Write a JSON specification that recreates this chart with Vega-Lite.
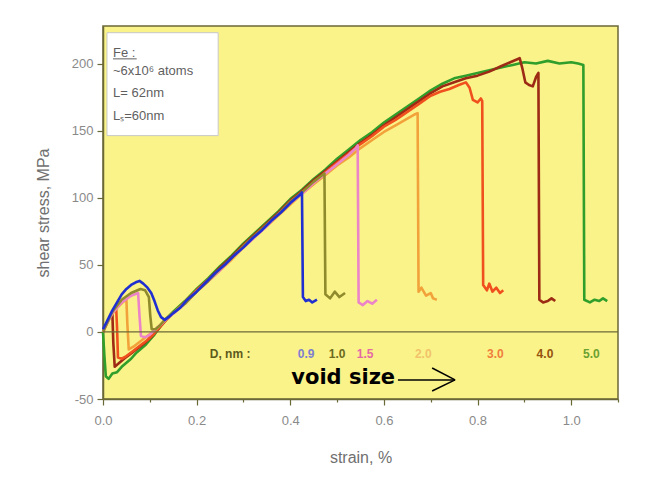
{
  "$schema": "https://vega.github.io/schema/vega-lite/v6.json",
  "width": 515,
  "height": 373,
  "autosize": {"type": "none"},
  "padding": {"left": 103, "top": 26, "right": 37, "bottom": 89},
  "background": "white",
  "config": {
    "view": {"fill": "#FAF38A", "stroke": "#6b6838", "strokeWidth": 1.5},
    "axis": {
      "grid": false,
      "domainColor": "#6b6838",
      "domainWidth": 1.5,
      "tickColor": "#6b6838",
      "tickWidth": 1.2,
      "tickSize": 6,
      "labelFlush": false,
      "labelFont": "Liberation Sans",
      "labelFontSize": 13,
      "labelColor": "#8a8a8a",
      "titleFont": "Liberation Sans",
      "titleFontSize": 16,
      "titleFontWeight": "normal",
      "titleColor": "#707070"
    }
  },
  "resolve": {"scale": {"color": "independent"}},
  "datasets": {
    "curves": [
      {"D":"5.0","strain":0,"stress":0},{"D":"5.0","strain":0.003,"stress":-18},{"D":"5.0","strain":0.006,"stress":-33},{"D":"5.0","strain":0.012,"stress":-35},{"D":"5.0","strain":0.02,"stress":-31},{"D":"5.0","strain":0.03,"stress":-30},{"D":"5.0","strain":0.04,"stress":-26},{"D":"5.0","strain":0.05,"stress":-23},{"D":"5.0","strain":0.06,"stress":-20},{"D":"5.0","strain":0.07,"stress":-16},{"D":"5.0","strain":0.08,"stress":-13},{"D":"5.0","strain":0.09,"stress":-10},{"D":"5.0","strain":0.1,"stress":-6},{"D":"5.0","strain":0.11,"stress":-2},{"D":"5.0","strain":0.12,"stress":3},{"D":"5.0","strain":0.13,"stress":8},{"D":"5.0","strain":0.15,"stress":15},{"D":"5.0","strain":0.175,"stress":23},{"D":"5.0","strain":0.2,"stress":32},{"D":"5.0","strain":0.225,"stress":40},{"D":"5.0","strain":0.25,"stress":49},{"D":"5.0","strain":0.275,"stress":57},{"D":"5.0","strain":0.3,"stress":66},{"D":"5.0","strain":0.325,"stress":74},{"D":"5.0","strain":0.35,"stress":82},{"D":"5.0","strain":0.375,"stress":90},{"D":"5.0","strain":0.4,"stress":99},{"D":"5.0","strain":0.425,"stress":106},{"D":"5.0","strain":0.45,"stress":114},{"D":"5.0","strain":0.475,"stress":121},{"D":"5.0","strain":0.5,"stress":129},{"D":"5.0","strain":0.525,"stress":136},{"D":"5.0","strain":0.55,"stress":143},{"D":"5.0","strain":0.575,"stress":149},{"D":"5.0","strain":0.6,"stress":156},{"D":"5.0","strain":0.625,"stress":162},{"D":"5.0","strain":0.65,"stress":168},{"D":"5.0","strain":0.675,"stress":174},{"D":"5.0","strain":0.7,"stress":180},{"D":"5.0","strain":0.725,"stress":185},{"D":"5.0","strain":0.75,"stress":189},{"D":"5.0","strain":0.775,"stress":191},{"D":"5.0","strain":0.8,"stress":193},{"D":"5.0","strain":0.825,"stress":195},{"D":"5.0","strain":0.85,"stress":197},{"D":"5.0","strain":0.875,"stress":199},{"D":"5.0","strain":0.9,"stress":201},{"D":"5.0","strain":0.925,"stress":200},{"D":"5.0","strain":0.95,"stress":202},{"D":"5.0","strain":0.975,"stress":200},{"D":"5.0","strain":1.0,"stress":201},{"D":"5.0","strain":1.015,"stress":200},{"D":"5.0","strain":1.026,"stress":199},{"D":"5.0","strain":1.028,"stress":24},{"D":"5.0","strain":1.04,"stress":22},{"D":"5.0","strain":1.05,"stress":24},{"D":"5.0","strain":1.06,"stress":23},{"D":"5.0","strain":1.068,"stress":25},{"D":"5.0","strain":1.077,"stress":23},

      {"D":"4.0","strain":0,"stress":0},{"D":"4.0","strain":0.01,"stress":8},{"D":"4.0","strain":0.02,"stress":14},{"D":"4.0","strain":0.022,"stress":-8},{"D":"4.0","strain":0.025,"stress":-26},{"D":"4.0","strain":0.035,"stress":-23},{"D":"4.0","strain":0.045,"stress":-20},{"D":"4.0","strain":0.06,"stress":-16},{"D":"4.0","strain":0.075,"stress":-12},{"D":"4.0","strain":0.09,"stress":-8},{"D":"4.0","strain":0.105,"stress":-3},{"D":"4.0","strain":0.12,"stress":3},{"D":"4.0","strain":0.135,"stress":9},{"D":"4.0","strain":0.15,"stress":14},{"D":"4.0","strain":0.175,"stress":22},{"D":"4.0","strain":0.2,"stress":31},{"D":"4.0","strain":0.225,"stress":39},{"D":"4.0","strain":0.25,"stress":48},{"D":"4.0","strain":0.275,"stress":56},{"D":"4.0","strain":0.3,"stress":65},{"D":"4.0","strain":0.325,"stress":73},{"D":"4.0","strain":0.35,"stress":81},{"D":"4.0","strain":0.375,"stress":89},{"D":"4.0","strain":0.4,"stress":98},{"D":"4.0","strain":0.425,"stress":105},{"D":"4.0","strain":0.45,"stress":113},{"D":"4.0","strain":0.475,"stress":120},{"D":"4.0","strain":0.5,"stress":127},{"D":"4.0","strain":0.525,"stress":134},{"D":"4.0","strain":0.55,"stress":141},{"D":"4.0","strain":0.575,"stress":147},{"D":"4.0","strain":0.6,"stress":154},{"D":"4.0","strain":0.625,"stress":160},{"D":"4.0","strain":0.65,"stress":166},{"D":"4.0","strain":0.675,"stress":172},{"D":"4.0","strain":0.7,"stress":178},{"D":"4.0","strain":0.725,"stress":183},{"D":"4.0","strain":0.75,"stress":186},{"D":"4.0","strain":0.775,"stress":189},{"D":"4.0","strain":0.8,"stress":191},{"D":"4.0","strain":0.825,"stress":194},{"D":"4.0","strain":0.85,"stress":198},{"D":"4.0","strain":0.87,"stress":201},{"D":"4.0","strain":0.89,"stress":204},{"D":"4.0","strain":0.896,"stress":196},{"D":"4.0","strain":0.902,"stress":186},{"D":"4.0","strain":0.91,"stress":184},{"D":"4.0","strain":0.918,"stress":183},{"D":"4.0","strain":0.925,"stress":190},{"D":"4.0","strain":0.93,"stress":193},{"D":"4.0","strain":0.932,"stress":24},{"D":"4.0","strain":0.94,"stress":22},{"D":"4.0","strain":0.95,"stress":23},{"D":"4.0","strain":0.958,"stress":25},{"D":"4.0","strain":0.966,"stress":23},

      {"D":"3.0","strain":0,"stress":0},{"D":"3.0","strain":0.01,"stress":8},{"D":"3.0","strain":0.02,"stress":15},{"D":"3.0","strain":0.028,"stress":19},{"D":"3.0","strain":0.03,"stress":3},{"D":"3.0","strain":0.032,"stress":-19},{"D":"3.0","strain":0.04,"stress":-20},{"D":"3.0","strain":0.05,"stress":-18},{"D":"3.0","strain":0.065,"stress":-14},{"D":"3.0","strain":0.08,"stress":-10},{"D":"3.0","strain":0.095,"stress":-6},{"D":"3.0","strain":0.11,"stress":-1},{"D":"3.0","strain":0.125,"stress":5},{"D":"3.0","strain":0.14,"stress":11},{"D":"3.0","strain":0.16,"stress":17},{"D":"3.0","strain":0.18,"stress":24},{"D":"3.0","strain":0.2,"stress":31},{"D":"3.0","strain":0.225,"stress":39},{"D":"3.0","strain":0.25,"stress":47},{"D":"3.0","strain":0.275,"stress":55},{"D":"3.0","strain":0.3,"stress":64},{"D":"3.0","strain":0.325,"stress":72},{"D":"3.0","strain":0.35,"stress":80},{"D":"3.0","strain":0.375,"stress":88},{"D":"3.0","strain":0.4,"stress":97},{"D":"3.0","strain":0.425,"stress":104},{"D":"3.0","strain":0.45,"stress":111},{"D":"3.0","strain":0.475,"stress":119},{"D":"3.0","strain":0.5,"stress":126},{"D":"3.0","strain":0.525,"stress":133},{"D":"3.0","strain":0.55,"stress":140},{"D":"3.0","strain":0.575,"stress":146},{"D":"3.0","strain":0.6,"stress":153},{"D":"3.0","strain":0.625,"stress":158},{"D":"3.0","strain":0.65,"stress":164},{"D":"3.0","strain":0.675,"stress":170},{"D":"3.0","strain":0.7,"stress":176},{"D":"3.0","strain":0.72,"stress":179},{"D":"3.0","strain":0.74,"stress":181},{"D":"3.0","strain":0.76,"stress":184},{"D":"3.0","strain":0.775,"stress":186},{"D":"3.0","strain":0.783,"stress":182},{"D":"3.0","strain":0.79,"stress":173},{"D":"3.0","strain":0.8,"stress":171},{"D":"3.0","strain":0.807,"stress":174},{"D":"3.0","strain":0.81,"stress":172},{"D":"3.0","strain":0.812,"stress":35},{"D":"3.0","strain":0.82,"stress":31},{"D":"3.0","strain":0.825,"stress":36},{"D":"3.0","strain":0.832,"stress":30},{"D":"3.0","strain":0.84,"stress":33},{"D":"3.0","strain":0.848,"stress":29},{"D":"3.0","strain":0.855,"stress":31},

      {"D":"2.0","strain":0,"stress":0},{"D":"2.0","strain":0.015,"stress":11},{"D":"2.0","strain":0.03,"stress":18},{"D":"2.0","strain":0.045,"stress":23},{"D":"2.0","strain":0.05,"stress":24},{"D":"2.0","strain":0.052,"stress":6},{"D":"2.0","strain":0.055,"stress":-13},{"D":"2.0","strain":0.065,"stress":-11},{"D":"2.0","strain":0.08,"stress":-7},{"D":"2.0","strain":0.095,"stress":-3},{"D":"2.0","strain":0.11,"stress":1},{"D":"2.0","strain":0.125,"stress":6},{"D":"2.0","strain":0.14,"stress":11},{"D":"2.0","strain":0.16,"stress":17},{"D":"2.0","strain":0.18,"stress":23},{"D":"2.0","strain":0.2,"stress":30},{"D":"2.0","strain":0.225,"stress":38},{"D":"2.0","strain":0.25,"stress":46},{"D":"2.0","strain":0.275,"stress":54},{"D":"2.0","strain":0.3,"stress":63},{"D":"2.0","strain":0.325,"stress":71},{"D":"2.0","strain":0.35,"stress":79},{"D":"2.0","strain":0.375,"stress":87},{"D":"2.0","strain":0.4,"stress":95},{"D":"2.0","strain":0.425,"stress":103},{"D":"2.0","strain":0.45,"stress":110},{"D":"2.0","strain":0.475,"stress":117},{"D":"2.0","strain":0.5,"stress":124},{"D":"2.0","strain":0.525,"stress":130},{"D":"2.0","strain":0.55,"stress":137},{"D":"2.0","strain":0.575,"stress":143},{"D":"2.0","strain":0.6,"stress":149},{"D":"2.0","strain":0.625,"stress":154},{"D":"2.0","strain":0.65,"stress":159},{"D":"2.0","strain":0.665,"stress":162},{"D":"2.0","strain":0.672,"stress":163},{"D":"2.0","strain":0.674,"stress":30},{"D":"2.0","strain":0.68,"stress":33},{"D":"2.0","strain":0.69,"stress":27},{"D":"2.0","strain":0.7,"stress":29},{"D":"2.0","strain":0.705,"stress":25},{"D":"2.0","strain":0.713,"stress":24},

      {"D":"1.5","strain":0,"stress":0},{"D":"1.5","strain":0.02,"stress":14},{"D":"1.5","strain":0.04,"stress":22},{"D":"1.5","strain":0.06,"stress":27},{"D":"1.5","strain":0.075,"stress":29},{"D":"1.5","strain":0.078,"stress":12},{"D":"1.5","strain":0.081,"stress":-3},{"D":"1.5","strain":0.09,"stress":-4},{"D":"1.5","strain":0.1,"stress":-2},{"D":"1.5","strain":0.112,"stress":2},{"D":"1.5","strain":0.125,"stress":6},{"D":"1.5","strain":0.14,"stress":11},{"D":"1.5","strain":0.155,"stress":15},{"D":"1.5","strain":0.175,"stress":21},{"D":"1.5","strain":0.2,"stress":30},{"D":"1.5","strain":0.225,"stress":38},{"D":"1.5","strain":0.25,"stress":46},{"D":"1.5","strain":0.275,"stress":55},{"D":"1.5","strain":0.3,"stress":63},{"D":"1.5","strain":0.325,"stress":71},{"D":"1.5","strain":0.35,"stress":79},{"D":"1.5","strain":0.375,"stress":88},{"D":"1.5","strain":0.4,"stress":96},{"D":"1.5","strain":0.425,"stress":103},{"D":"1.5","strain":0.45,"stress":111},{"D":"1.5","strain":0.475,"stress":118},{"D":"1.5","strain":0.5,"stress":125},{"D":"1.5","strain":0.525,"stress":132},{"D":"1.5","strain":0.54,"stress":137},{"D":"1.5","strain":0.544,"stress":139},{"D":"1.5","strain":0.546,"stress":22},{"D":"1.5","strain":0.555,"stress":20},{"D":"1.5","strain":0.565,"stress":23},{"D":"1.5","strain":0.575,"stress":21},{"D":"1.5","strain":0.585,"stress":24},

      {"D":"1.0","strain":0,"stress":0},{"D":"1.0","strain":0.02,"stress":15},{"D":"1.0","strain":0.04,"stress":24},{"D":"1.0","strain":0.06,"stress":29},{"D":"1.0","strain":0.08,"stress":32},{"D":"1.0","strain":0.09,"stress":31},{"D":"1.0","strain":0.098,"stress":26},{"D":"1.0","strain":0.101,"stress":12},{"D":"1.0","strain":0.104,"stress":2},{"D":"1.0","strain":0.112,"stress":2},{"D":"1.0","strain":0.122,"stress":5},{"D":"1.0","strain":0.132,"stress":9},{"D":"1.0","strain":0.145,"stress":13},{"D":"1.0","strain":0.175,"stress":21},{"D":"1.0","strain":0.2,"stress":30},{"D":"1.0","strain":0.225,"stress":38},{"D":"1.0","strain":0.25,"stress":47},{"D":"1.0","strain":0.275,"stress":55},{"D":"1.0","strain":0.3,"stress":64},{"D":"1.0","strain":0.325,"stress":72},{"D":"1.0","strain":0.35,"stress":80},{"D":"1.0","strain":0.375,"stress":88},{"D":"1.0","strain":0.4,"stress":97},{"D":"1.0","strain":0.425,"stress":104},{"D":"1.0","strain":0.45,"stress":112},{"D":"1.0","strain":0.465,"stress":116},{"D":"1.0","strain":0.473,"stress":118},{"D":"1.0","strain":0.475,"stress":28},{"D":"1.0","strain":0.485,"stress":25},{"D":"1.0","strain":0.495,"stress":30},{"D":"1.0","strain":0.505,"stress":26},{"D":"1.0","strain":0.517,"stress":29},

      {"D":"0.9","strain":0,"stress":2},{"D":"0.9","strain":0.01,"stress":9},{"D":"0.9","strain":0.02,"stress":16},{"D":"0.9","strain":0.03,"stress":22},{"D":"0.9","strain":0.04,"stress":28},{"D":"0.9","strain":0.05,"stress":32},{"D":"0.9","strain":0.06,"stress":35},{"D":"0.9","strain":0.07,"stress":37},{"D":"0.9","strain":0.078,"stress":38},{"D":"0.9","strain":0.086,"stress":36},{"D":"0.9","strain":0.095,"stress":33},{"D":"0.9","strain":0.103,"stress":29},{"D":"0.9","strain":0.11,"stress":23},{"D":"0.9","strain":0.117,"stress":16},{"D":"0.9","strain":0.124,"stress":11},{"D":"0.9","strain":0.132,"stress":9},{"D":"0.9","strain":0.14,"stress":11},{"D":"0.9","strain":0.15,"stress":14},{"D":"0.9","strain":0.165,"stress":18},{"D":"0.9","strain":0.18,"stress":24},{"D":"0.9","strain":0.2,"stress":30},{"D":"0.9","strain":0.22,"stress":37},{"D":"0.9","strain":0.24,"stress":44},{"D":"0.9","strain":0.26,"stress":50},{"D":"0.9","strain":0.28,"stress":57},{"D":"0.9","strain":0.3,"stress":63},{"D":"0.9","strain":0.32,"stress":70},{"D":"0.9","strain":0.34,"stress":76},{"D":"0.9","strain":0.36,"stress":83},{"D":"0.9","strain":0.38,"stress":89},{"D":"0.9","strain":0.4,"stress":96},{"D":"0.9","strain":0.41,"stress":99},{"D":"0.9","strain":0.42,"stress":102},{"D":"0.9","strain":0.425,"stress":104},{"D":"0.9","strain":0.427,"stress":26},{"D":"0.9","strain":0.433,"stress":23},{"D":"0.9","strain":0.44,"stress":24},{"D":"0.9","strain":0.447,"stress":22},{"D":"0.9","strain":0.457,"stress":24}
    ],
    "box": [{"strain": 0.0085, "strain2": 0.246, "stress": 223, "stress2": 146.3}],
    "boxText": [
      {"strain": 0.0214, "stress": 208, "t": "Fe :"},
      {"strain": 0.0214, "stress": 194.8, "t": "~6x10⁶ atoms"},
      {"strain": 0.0214, "stress": 178.4, "t": "L= 62nm"},
      {"strain": 0.0214, "stress": 161.2, "t": "Lₛ=60nm"}
    ],
    "underline": [{"strain": 0.0214, "strain2": 0.072, "stress": 203.5}],
    "labels": [
      {"strain": 0.2714, "stress": -16.4, "label": "D, nm :"},
      {"strain": 0.434, "stress": -16.4, "label": "0.9"},
      {"strain": 0.5, "stress": -16.4, "label": "1.0"},
      {"strain": 0.56, "stress": -16.4, "label": "1.5"},
      {"strain": 0.684, "stress": -16.4, "label": "2.0"},
      {"strain": 0.838, "stress": -16.4, "label": "3.0"},
      {"strain": 0.944, "stress": -16.4, "label": "4.0"},
      {"strain": 1.043, "stress": -16.4, "label": "5.0"}
    ],
    "voidText": [{"strain": 0.513, "stress": -34.3, "t": "void size"}],
    "arrow": [
      {"strain": 0.63, "stress": -35.8, "strain2": 0.752, "stress2": -35.8},
      {"strain": 0.703, "stress": -26.9, "strain2": 0.752, "stress2": -35.8},
      {"strain": 0.703, "stress": -44.0, "strain2": 0.752, "stress2": -35.8}
    ]
  },
  "layer": [
    {
      "data": {"name": "curves"},
      "mark": {"type": "line", "strokeWidth": 2.6, "strokeJoin": "round"},
      "encoding": {
        "x": {
          "field": "strain", "type": "quantitative",
          "scale": {"domain": [0, 1.1], "nice": false, "zero": false},
          "axis": {
            "title": "strain, %",
            "values": [0, 0.1, 0.2, 0.3, 0.4, 0.5, 0.6, 0.7, 0.8, 0.9, 1.0, 1.1],
            "labelExpr": "round(datum.value*10) % 2 === 0 ? format(datum.value, '.1f') : ''",
            "tickDash": {"condition": {"test": "round(datum.value*10) % 2 === 0", "value": [10, 0]}, "value": [3, 10]},
            "labelPadding": 9,
            "titlePadding": 22
          }
        },
        "y": {
          "field": "stress", "type": "quantitative",
          "scale": {"domain": [-50, 228], "nice": false, "zero": false},
          "axis": {
            "title": "shear stress,  MPa",
            "values": [-50, -25, 0, 25, 50, 75, 100, 125, 150, 175, 200, 225],
            "labelExpr": "datum.value % 50 === 0 ? '' + datum.value : ''",
            "tickDash": {"condition": {"test": "datum.value % 50 === 0", "value": [10, 0]}, "value": [3, 10]},
            "labelPadding": 4,
            "titlePadding": 20
          }
        },
        "color": {
          "field": "D", "type": "nominal", "legend": null,
          "scale": {
            "domain": ["0.9", "1.0", "1.5", "2.0", "3.0", "4.0", "5.0"],
            "range": ["#1f2fd0", "#8f8a2c", "#ec84c8", "#f2a23a", "#f0501e", "#9c2a14", "#2f9e2a"]
          }
        }
      }
    },
    {
      "data": {"values": [{"stress": 0}]},
      "mark": {"type": "rule", "color": "#6b6838", "strokeWidth": 1.2},
      "encoding": {"y": {"field": "stress", "type": "quantitative"}}
    },
    {
      "data": {"name": "box"},
      "mark": {"type": "rect", "fill": "white", "stroke": "#c8c8c8", "strokeWidth": 1},
      "encoding": {
        "x": {"field": "strain", "type": "quantitative"},
        "x2": {"field": "strain2"},
        "y": {"field": "stress", "type": "quantitative"},
        "y2": {"field": "stress2"}
      }
    },
    {
      "data": {"name": "boxText"},
      "mark": {"type": "text", "align": "left", "baseline": "middle", "font": "Liberation Sans", "fontSize": 13, "color": "#5f5f5f"},
      "encoding": {
        "x": {"field": "strain", "type": "quantitative"},
        "y": {"field": "stress", "type": "quantitative"},
        "text": {"field": "t"}
      }
    },
    {
      "data": {"name": "underline"},
      "mark": {"type": "rule", "color": "#5f5f5f", "strokeWidth": 1},
      "encoding": {
        "x": {"field": "strain", "type": "quantitative"},
        "x2": {"field": "strain2"},
        "y": {"field": "stress", "type": "quantitative"}
      }
    },
    {
      "data": {"name": "labels"},
      "mark": {"type": "text", "align": "center", "baseline": "middle", "font": "Liberation Sans", "fontSize": 12, "fontWeight": "bold"},
      "encoding": {
        "x": {"field": "strain", "type": "quantitative"},
        "y": {"field": "stress", "type": "quantitative"},
        "text": {"field": "label"},
        "color": {
          "field": "label", "type": "nominal", "legend": null,
          "scale": {
            "domain": ["D, nm :", "0.9", "1.0", "1.5", "2.0", "3.0", "4.0", "5.0"],
            "range": ["#5e5a1c", "#7f7fcf", "#6b6a1c", "#e46aa4", "#f2c36a", "#f07e3c", "#94520e", "#6aa030"]
          }
        }
      }
    },
    {
      "data": {"name": "voidText"},
      "mark": {"type": "text", "align": "center", "baseline": "middle", "font": "DejaVu Sans", "fontSize": 21, "fontWeight": "bold", "color": "black"},
      "encoding": {
        "x": {"field": "strain", "type": "quantitative"},
        "y": {"field": "stress", "type": "quantitative"},
        "text": {"field": "t"}
      }
    },
    {
      "data": {"name": "arrow"},
      "mark": {"type": "rule", "color": "black", "strokeWidth": 1.5},
      "encoding": {
        "x": {"field": "strain", "type": "quantitative"},
        "x2": {"field": "strain2"},
        "y": {"field": "stress", "type": "quantitative"},
        "y2": {"field": "stress2"}
      }
    }
  ]
}
